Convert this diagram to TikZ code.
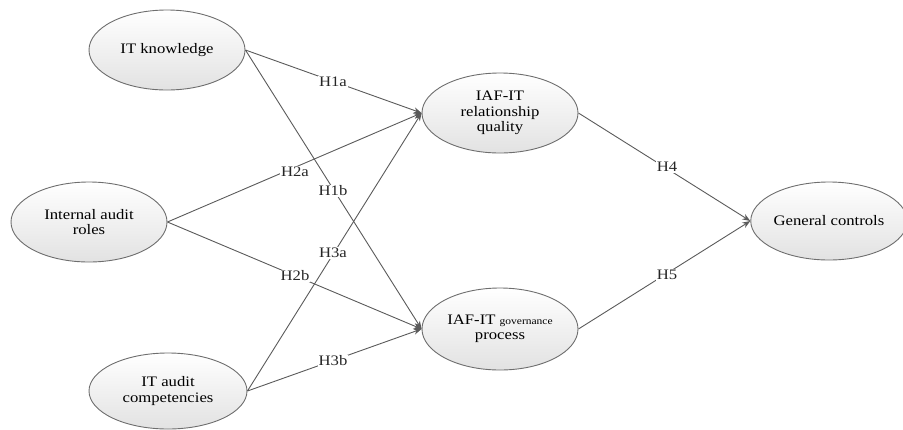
\documentclass[tikz,border=0pt]{standalone}
\usepackage{fontspec}
\usepackage{graphicx}
\setmainfont{Liberation Serif}
\usetikzlibrary{shapes.geometric,arrows.meta}
\definecolor{linegray}{HTML}{5A5A5A}
\definecolor{bordergray}{HTML}{6E6E6E}
\definecolor{shadegray}{HTML}{E2E2E2}
\newcommand{\wtxt}[1]{\scalebox{1.15}[1]{#1}}
\tikzset{
  construct/.style={ellipse, draw=bordergray, line width=0.9pt, top color=white, bottom color=shadegray, inner sep=0pt,
    font=\fontsize{14.5}{15.5}\selectfont, align=center},
  path/.style={draw=linegray, line width=0.9pt, -{Stealth[length=8pt,width=6pt]}},
  hyp/.style={fill=white, inner sep=1pt, font=\fontsize{14.5}{15.5}\selectfont, text=black!85}
}
\begin{document}
\begin{tikzpicture}[x=1pt,y=-1pt]
\useasboundingbox (0,0) rectangle (903,429);
\node[construct, minimum width=156pt, minimum height=80pt] (itk) at (167,50) {\wtxt{IT knowledge}};
\node[construct, minimum width=156pt, minimum height=80pt] (iar) at (89,222) {\wtxt{Internal audit}\\\wtxt{roles}};
\node[construct, minimum width=158pt, minimum height=76pt] (itc) at (168,391) {\wtxt{IT audit}\\\wtxt{competencies}};
\node[construct, minimum width=156pt, minimum height=80pt] (rel) at (500,113) {\wtxt{IAF-IT}\\\wtxt{relationship}\\\wtxt{quality}};
\node[construct, minimum width=156pt, minimum height=82pt] (gov) at (500,329) {\wtxt{IAF-IT {\fontsize{10}{12}\selectfont governance}}\\\wtxt{process}};
\node[construct, minimum width=148pt, minimum height=78pt] (gc) at (829,221) {\wtxt{General controls}};

\draw[path] (itk.east) -- (rel.west);
\draw[path] (itk.east) -- (gov.west);
\draw[path] (iar.east) -- (rel.west);
\draw[path] (iar.east) -- (gov.west);
\draw[path] (itc.east) -- (rel.west);
\draw[path] (itc.east) -- (gov.west);
\draw[path] (rel.east) -- (gc.west);
\draw[path] (gov.east) -- (gc.west);

\node[hyp] (h1a) at (333,82) {\wtxt{H1a}};
\node[hyp] (h2a) at (295,172) {\wtxt{H2a}};
\node[hyp] (h1b) at (333,191) {\wtxt{H1b}};
\node[hyp] (h3a) at (333,253) {\wtxt{H3a}};
\node[hyp] (h2b) at (295,276) {\wtxt{H2b}};
\node[hyp] (h3b) at (333,361) {\wtxt{H3b}};
\node[hyp] (h4) at (667,167) {\wtxt{H4}};
\node[hyp] (h5) at (667,275) {\wtxt{H5}};
\end{tikzpicture}
\end{document}
